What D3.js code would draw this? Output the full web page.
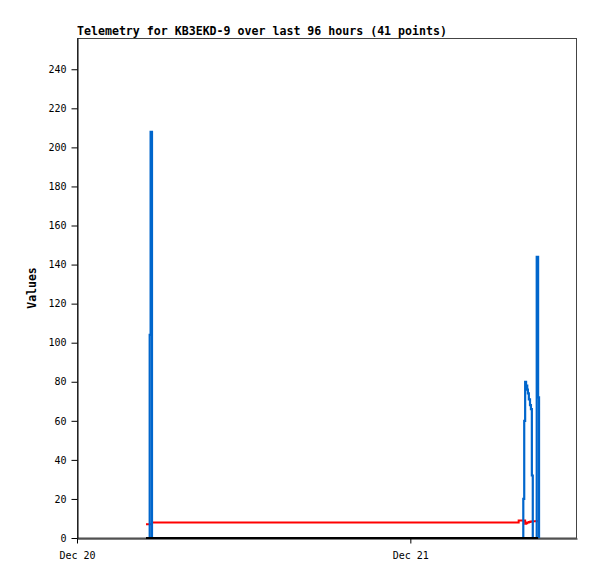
<html>
<style>
body { margin: 0; background: #fff; }
text { font-family: "DejaVu Sans Mono", "Liberation Mono", monospace; }
</style>
<script src="https://d3js.org/d3.v7.min.js"></script>
<body>
<svg id="main_vis" width="597" height="579"></svg>
<script>

// sample times (local clock)
var times = ["2020-12-20T04:58","2020-12-20T05:14","2020-12-20T05:18","2020-12-20T05:24",
  "2020-12-21T07:48","2020-12-21T08:08","2020-12-21T08:12","2020-12-21T08:16",
  "2020-12-21T08:20","2020-12-21T08:25","2020-12-21T08:28","2020-12-21T08:32",
  "2020-12-21T08:37","2020-12-21T08:41","2020-12-21T08:45","2020-12-21T08:49",
  "2020-12-21T09:06","2020-12-21T09:12","2020-12-21T09:16"];
var blueVals  = [0,104,208,0, 0,20,60,80, 78,76,74,71, 68,66,32,0, 144,72,0];
var redVals   = [7,7,7,8, 9,9,9,7.3, 7.6,7.9,8,8.2, 8.3,8.4,8.5,8.6, 8.7,8.8,null];
var blackVals = [0,0,0,0, 0,0,0,0, 0,0,0,0, 0,0,0,0, 0,0,null];
var yTicks = [0,20,40,60,80,100,120,140,160,180,200,220,240];
var xTicks = ["2020-12-20T00:00","2020-12-21T00:00"];

var parse = d3.timeParse("%Y-%m-%dT%H:%M");
var svg = d3.select("#main_vis");

var x = d3.scaleTime()
  .domain([parse("2020-12-20T00:00"), parse("2020-12-21T12:00")])
  .range([77, 577]);
var y = d3.scaleLinear()
  .domain([0, 256])
  .range([538, 38]);

function series(vals) {
  return times.map(function(t, i) { return { date: parse(t), value: vals[i] } });
}

// frame
svg.append("rect")
  .attr("x", 77.5).attr("y", 38.5).attr("width", 499).attr("height", 499.5)
  .attr("fill", "none").attr("stroke", "#444").attr("stroke-width", 1);

// y axis
var ya = svg.append("g")
  .attr("transform", "translate(77.5,0)")
  .call(d3.axisLeft(y).tickValues(yTicks).tickSize(6).tickSizeOuter(0).tickPadding(5));
ya.select(".domain").attr("stroke", "#000");
ya.selectAll("text").style("font-family", "DejaVu Sans Mono").style("font-size", "10px").attr("fill", "#000");

// x axis
var xa = svg.append("g")
  .attr("transform", "translate(0,538.5)")
  .call(d3.axisBottom(x).tickValues(xTicks.map(parse)).tickFormat(d3.timeFormat("%b %d")).tickSize(5).tickSizeOuter(0).tickPadding(8));
xa.select(".domain").attr("stroke", "#000");
xa.selectAll("text").style("font-family", "DejaVu Sans Mono").style("font-size", "10px").attr("fill", "#000");

var line = d3.line()
  .defined(function(d) { return d.value != null })
  .curve(d3.curveStepAfter)
  .x(function(d) { return x(d.date) })
  .y(function(d) { return y(d.value) });

svg.append("path").datum(series(redVals))
  .attr("fill", "none").attr("stroke", "#ff0000").attr("stroke-width", 2).attr("d", line);
svg.append("path").datum(series(blueVals))
  .attr("fill", "none").attr("stroke", "#0066cc").attr("stroke-width", 2.2).attr("d", line);
svg.append("path").datum(series(blackVals))
  .attr("fill", "none").attr("stroke", "#000").attr("stroke-width", 2).attr("d", line);

// title
svg.append("text")
  .attr("x", 77).attr("y", 35)
  .attr("font-size", "11.6px").attr("font-weight", "bold")
  .text("Telemetry for KB3EKD-9 over last 96 hours (41 points)");

// y label
svg.append("text")
  .attr("transform", "translate(36,288) rotate(-90)")
  .attr("text-anchor", "middle")
  .attr("font-size", "11.5px").attr("font-weight", "bold")
  .text("Values");

</script>
</body>
</html>
